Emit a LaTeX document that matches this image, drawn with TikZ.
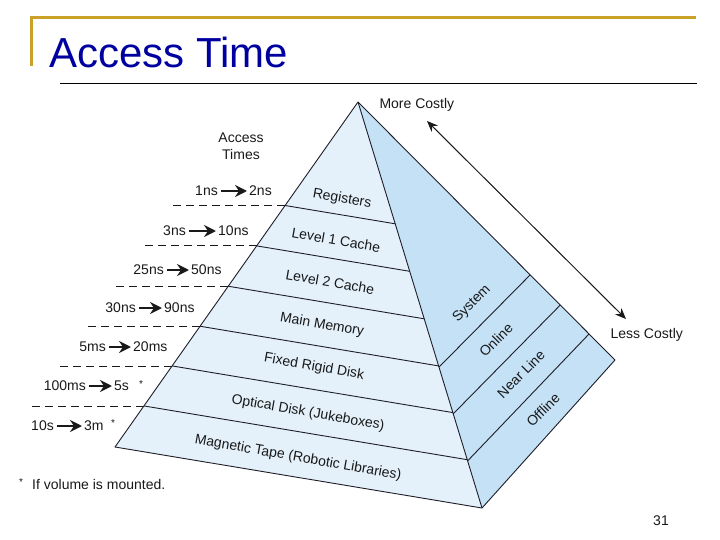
\documentclass[tikz,border=0pt]{standalone}
\usepackage{fontspec}
\setmainfont{Liberation Sans}
\usepackage{tikz}
\usetikzlibrary{arrows.meta, positioning, calc}
\definecolor{titleblue}{RGB}{0,0,160}
\definecolor{framegold}{RGB}{201,162,39}
\definecolor{faceleft}{RGB}{228,241,251}
\definecolor{faceright}{RGB}{197,225,246}
\definecolor{edgedark}{RGB}{30,30,40}
\definecolor{labelink}{RGB}{25,25,25}

\begin{document}
\begin{tikzpicture}[x=1pt, y=-1pt,
    edge/.style={draw=edgedark, line width=0.9pt},
    txt/.style={font=\fontsize{14}{17}\selectfont, text=labelink},
    layerlabel/.style={txt, rotate=-10},
    tierlabel/.style={txt, rotate=45},
    timelabel/.style={txt, inner sep=1pt},
    timearrow/.style={-{Stealth[length=12pt,width=12pt,inset=4pt]}, line width=2pt,
                      labelink, shorten <=2pt, shorten >=1pt},
    guide/.style={dash pattern=on 8pt off 5pt, line width=0.8pt, labelink}]
  \useasboundingbox (0,0) rectangle (720,540);

  % Slide frame and title
  \draw[framegold, line width=3pt] (31,66) -- (31,18) -- (696,18);
  \node[anchor=base west, inner sep=0, font=\fontsize{42}{48}\selectfont,
        text=titleblue] (title) at (49,68) {Access Time};
  \draw[line width=1pt] (60,84) -- (697,84);

  % Pyramid corners
  \coordinate (apex) at (358,102);
  \coordinate (bl) at (115,447);
  \coordinate (bf) at (482,508);
  \coordinate (br) at (615,360);
  \fill[faceleft]  (apex) -- (bl) -- (bf) -- cycle;
  \fill[faceright] (apex) -- (bf) -- (br) -- cycle;

  % Storage layers on the front face, with dashed guides to the times
  \foreach \f [count=\i] in {0.300,0.417,0.534,0.650,0.765,0.881} {
    \coordinate (L\i) at ($(apex)!\f!(bl)$);
    \coordinate (R\i) at ($(apex)!\f!(bf)$);
    \draw[edge] (L\i) -- (R\i);
    \draw[guide] (L\i) -- ++(-112,0);
  }
  % Tiers on the side face
  \foreach \f/\g [count=\i] in {0.653/0.670, 0.768/0.787, 0.884/0.899} {
    \coordinate (S\i) at ($(apex)!\g!(br)$);
    \draw[edge] ($(apex)!\f!(bf)$) -- (S\i);
  }
  \draw[edge, line join=round] (apex) -- (bl) -- (bf) -- (br) -- cycle;
  \draw[edge] (apex) -- (bf);

  % Layer names
  \node[layerlabel] (reg)  at (342,199) {Registers};
  \node[layerlabel] (l1)   at (336,240) {Level 1 Cache};
  \node[layerlabel] (l2)   at (330,282) {Level 2 Cache};
  \node[layerlabel] (mem)  at (322,325) {Main Memory};
  \node[layerlabel] (disk) at (314,367) {Fixed Rigid Disk};
  \node[layerlabel] (opt)  at (308,413) {Optical Disk (Jukeboxes)};
  \node[layerlabel] (tape) at (298,458) {Magnetic Tape (Robotic Libraries)};

  % Tier names
  \node[tierlabel] (sys)  at (472,304) {System};
  \node[tierlabel] (onl)  at (496,340) {Online};
  \node[tierlabel] (near) at (521,374) {Near Line};
  \node[tierlabel] (off)  at (543,410) {Offline};

  % Access times
  \node[txt, align=center] (acctimes) at (241,146) {Access\\Times};
  \foreach \a/\b/\y/\xa/\xb [count=\i] in
      {1ns/2ns/191/219/248, 3ns/10ns/231/187/217, 25ns/50ns/270/165/190,
       30ns/90ns/308/137/163, 5ms/20ms/347/107/132, 100ms/5s/386/87/113,
       10s/3m/426/55/83} {
    \node[timelabel, anchor=east] (from\i) at (\xa,\y) {\a};
    \node[timelabel, anchor=west] (to\i) at (\xb,\y) {\b};
    \draw[timearrow] (from\i) -- (to\i);
  }
  \node[txt, font=\fontsize{10}{12}\selectfont] (mark6) at (141,384) {*};
  \node[txt, font=\fontsize{10}{12}\selectfont] (mark7) at (113,423) {*};

  % Cost scale
  \node[txt, anchor=west] (more) at (376,105) {More Costly};
  \node[txt, anchor=west] (less) at (607,335) {Less Costly};
  \coordinate (costhi) at (427,121);
  \coordinate (costlo) at (626,319);
  \draw[{Stealth[length=11pt,width=9pt]}-{Stealth[length=11pt,width=9pt]},
        line width=1pt, labelink] (costhi) -- (costlo);

  % Footnote and page number
  \node[txt, font=\fontsize{10}{12}\selectfont] (mark) at (21,482) {*};
  \node[txt, anchor=base west, inner sep=0] (note) at (32,489) {If volume is mounted.};
  \node[txt] (page) at (661,521) {31};
\end{tikzpicture}
\end{document}
